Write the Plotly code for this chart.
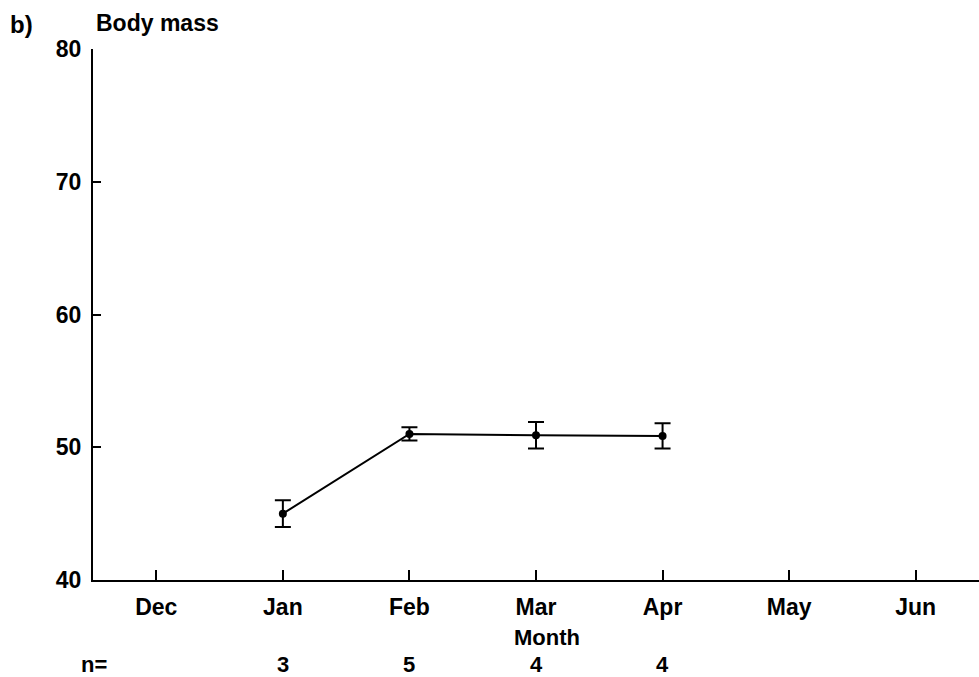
import plotly.graph_objects as go

# Axis categories and labels
months = ["Dec", "Jan", "Feb", "Mar", "Apr", "May", "Jun"]
y_ticks = [40, 50, 60, 70, 80]

# Observed months with mean body mass and error
obs_months = ["Jan", "Feb", "Mar", "Apr"]
body_mass = [45.0, 51.0, 50.9, 50.85]
mass_err = [1.0, 0.5, 1.0, 0.95]
n_counts = [3, 5, 4, 4]

FONT = "Liberation Sans, Arial, sans-serif"
fsize = 23

# plot area in pixels
L, T, R, B = 93, 49, 979, 580
W, H = R - L, B - T


def px_x(px):
    return (px - L) / W


def px_y(py):
    return (B - py) / H


fig = go.Figure()
fig.add_trace(go.Scatter(
    x=obs_months, y=body_mass,
    mode="lines+markers",
    line=dict(color="black", width=2),
    marker=dict(color="black", size=8),
    error_y=dict(type="data", array=mass_err, visible=True,
                 color="black", thickness=2, width=8),
    showlegend=False,
    cliponaxis=False,
))

fig.update_layout(
    width=979, height=677,
    margin=dict(l=L, r=979 - R, t=T, b=677 - B),
    plot_bgcolor="white", paper_bgcolor="white",
    font=dict(family=FONT, size=fsize, color="black"),
    xaxis=dict(
        type="category", categoryorder="array", categoryarray=months,
        range=[-0.5, 6.5],
        showline=True, linecolor="black", linewidth=2,
        ticks="inside", ticklen=10, tickwidth=2, tickcolor="black",
        showgrid=False, zeroline=False,
        tickfont=dict(family=FONT, size=fsize, color="black", weight="bold"),
        ticklabelstandoff=5,
    ),
    yaxis=dict(
        range=[40, 80], tickvals=y_ticks,
        showline=True, linecolor="black", linewidth=2,
        ticks="inside", ticklen=8, tickwidth=2, tickcolor="black",
        showgrid=False, zeroline=False,
        tickfont=dict(family=FONT, size=fsize, color="black", weight="bold"),
        ticklabelstandoff=5,
    ),
)

bold = dict(family=FONT, size=fsize, color="black", weight="bold")
small = dict(family=FONT, size=22, color="black", weight="bold")

# panel label, axis titles and sample sizes
fig.add_annotation(text="b)", xref="paper", yref="paper",
                   x=px_x(8), y=px_y(25), xanchor="left", yanchor="middle",
                   showarrow=False, font=dict(bold, size=fsize + 1))
fig.add_annotation(text="Month", xref="paper", yref="paper",
                   x=px_x(547), y=px_y(637), xanchor="center", yanchor="middle",
                   showarrow=False, font=small, borderpad=0)
fig.add_annotation(text="Body mass", xref="paper", yref="paper",
                   x=px_x(94), y=px_y(23), xanchor="left", yanchor="middle",
                   showarrow=False, font=bold)
fig.add_annotation(text="n=", xref="paper", yref="paper",
                   x=px_x(80), y=px_y(664), xanchor="left", yanchor="middle",
                   showarrow=False, font=small, borderpad=0)
for m, n in zip(obs_months, n_counts):
    fig.add_annotation(text=str(n), x=m, xref="x", yref="paper",
                       y=px_y(664), xanchor="center", yanchor="middle",
                       showarrow=False, font=small, borderpad=0)

fig.write_html("out.html")
